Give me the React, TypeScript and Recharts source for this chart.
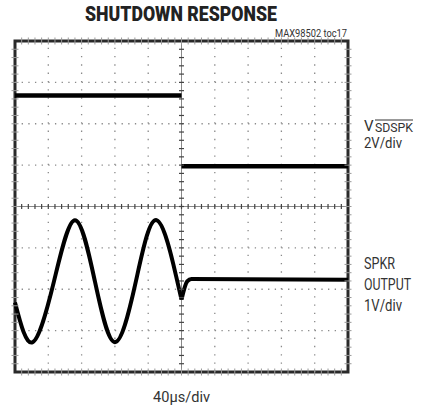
import React from 'react';
import {
  ComposedChart,
  Line,
  Scatter,
  XAxis,
  YAxis,
  ReferenceLine,
  ReferenceArea
} from 'recharts';

// time in divisions (10 div across), volts in divisions (8 div tall)
const sdHighTime = [0, 5];
const sdHighLevel = [6.68, 6.68];
const sdLowTime = [5, 10];
const sdLowLevel = [4.97, 4.97];

const waveTime = [0, 0.53, 1.17, 1.8, 2.4, 3.0, 3.63, 4.25, 4.84, 5.0];
const waveLevel = [1.68, 0.72, 2.19, 3.67, 2.19, 0.72, 2.19, 3.67, 2.31, 1.75];
const settleTime = [5.0, 5.17, 5.3, 10];
const settleLevel = [1.75, 2.19, 2.25, 2.23];

const xGrid = [1, 2, 3, 4, 6, 7, 8, 9];
const yGrid = [1, 2, 3, 5, 6, 7];
const xCenter = 5;
const yCenter = 4;

const xMinor = Array.from({ length: 49 }, (_, i) => (i + 1) * 0.2);
const yMinor = Array.from({ length: 39 }, (_, i) => (i + 1) * 0.2);

const pairs = (ts: number[], vs: number[]) => ts.map((t, i) => ({ t, v: vs[i] }));
const sdHigh = pairs(sdHighTime, sdHighLevel);
const sdLow = pairs(sdLowTime, sdLowLevel);
const wave = pairs(waveTime, waveLevel);
const settle = pairs(settleTime, settleLevel);

const xCenterTicks = xMinor.map((t) => ({ t, v: yCenter }));
const yCenterTicks = yMinor.map((v) => ({ t: xCenter, v }));
const topEdgeTicks = xMinor.map((t) => ({ t, v: 8 }));
const bottomEdgeTicks = xMinor.map((t) => ({ t, v: 0 }));
const leftEdgeTicks = yMinor.map((v) => ({ t: 0, v }));
const rightEdgeTicks = yMinor.map((v) => ({ t: 10, v }));

const W = 425;
const H = 409;
const FONT = 'Roboto, "Liberation Sans", sans-serif';

const VTick = (props: any) => (
  <line x1={props.cx} x2={props.cx} y1={props.cy - 2.5} y2={props.cy + 2.5} stroke="#444" strokeWidth={1.2} />
);
const HTick = (props: any) => (
  <line x1={props.cx - 2.5} x2={props.cx + 2.5} y1={props.cy} y2={props.cy} stroke="#444" strokeWidth={1.2} />
);
const EdgeV = (props: any) => (
  <line x1={props.cx} x2={props.cx} y1={props.cy - 3.5} y2={props.cy + 3.5} stroke="#999" strokeWidth={1} />
);
const EdgeH = (props: any) => (
  <line x1={props.cx - 3.5} x2={props.cx + 3.5} y1={props.cy} y2={props.cy} stroke="#999" strokeWidth={1} />
);

export default function App() {
  return (
    <div style={{ position: 'absolute', left: 0, top: 0, width: W, height: H, background: '#fff' }}>
      <ComposedChart
        width={W}
        height={H}
        margin={{ top: 41, left: 15, right: 77, bottom: 37 }}
      >
        <XAxis type="number" dataKey="t" domain={[0, 10]} hide />
        <YAxis type="number" dataKey="v" domain={[0, 8]} hide />
        {xGrid.map((x) => (
          <ReferenceLine key={'x' + x} x={x} stroke="#8a8a8a" strokeWidth={1.3} strokeDasharray="1.3 6.98" />
        ))}
        {yGrid.map((y) => (
          <ReferenceLine key={'y' + y} y={y} stroke="#8a8a8a" strokeWidth={1.3} strokeDasharray="1.3 5.36" />
        ))}
        <ReferenceLine x={xCenter} stroke="#888" strokeWidth={1} />
        <ReferenceLine y={yCenter} stroke="#888" strokeWidth={1} />
        <Scatter data={xCenterTicks} dataKey="v" shape={<VTick />} isAnimationActive={false} />
        <Scatter data={yCenterTicks} dataKey="v" shape={<HTick />} isAnimationActive={false} />
        <Scatter data={topEdgeTicks} dataKey="v" shape={<EdgeV />} isAnimationActive={false} />
        <Scatter data={bottomEdgeTicks} dataKey="v" shape={<EdgeV />} isAnimationActive={false} />
        <Scatter data={leftEdgeTicks} dataKey="v" shape={<EdgeH />} isAnimationActive={false} />
        <Scatter data={rightEdgeTicks} dataKey="v" shape={<EdgeH />} isAnimationActive={false} />
        <Line data={sdHigh} dataKey="v" type="linear" stroke="#000" strokeWidth={4.5} dot={false} isAnimationActive={false} />
        <Line data={sdLow} dataKey="v" type="linear" stroke="#000" strokeWidth={4.5} dot={false} isAnimationActive={false} />
        <Line data={wave} dataKey="v" type="natural" stroke="#000" strokeWidth={4} dot={false} isAnimationActive={false} />
        <Line data={settle} dataKey="v" type="monotone" stroke="#000" strokeWidth={4} dot={false} isAnimationActive={false} />
        <ReferenceArea x1={0} x2={10} y1={0} y2={8} fill="none" stroke="#2a2a2a" strokeWidth={3} />
      </ComposedChart>
      <svg
        width={W}
        height={H}
        style={{ position: 'absolute', left: 0, top: 0, pointerEvents: 'none' }}
        fontFamily={FONT}
      >
        <text x={85} y={20.5} fontSize={21} fontWeight={900} fill="#222" textLength={192} lengthAdjust="spacingAndGlyphs">
          SHUTDOWN RESPONSE
        </text>
        <text x={275} y={37} fontSize={10} fill="#333" textLength={72} lengthAdjust="spacingAndGlyphs">
          MAX98502 toc17
        </text>
        <text x={364} y={131} fontSize={15} fill="#333">V</text>
        <text x={375} y={132} fontSize={13} fill="#333" textLength={38} lengthAdjust="spacingAndGlyphs">SDSPK</text>
        <line x1={375} x2={413} y1={120} y2={120} stroke="#333" strokeWidth={1} />
        <text x={364} y={148} fontSize={15} fill="#333" textLength={38} lengthAdjust="spacingAndGlyphs">2V/div</text>
        <text x={364} y={269} fontSize={16} fill="#333" textLength={31} lengthAdjust="spacingAndGlyphs">SPKR</text>
        <text x={364} y={290} fontSize={16} fill="#333" textLength={47} lengthAdjust="spacingAndGlyphs">OUTPUT</text>
        <text x={364} y={311} fontSize={16} fill="#333" textLength={38} lengthAdjust="spacingAndGlyphs">1V/div</text>
        <text x={153} y={401.5} fontSize={15} fill="#333" textLength={57} lengthAdjust="spacingAndGlyphs">40µs/div</text>
      </svg>
    </div>
  );
}
